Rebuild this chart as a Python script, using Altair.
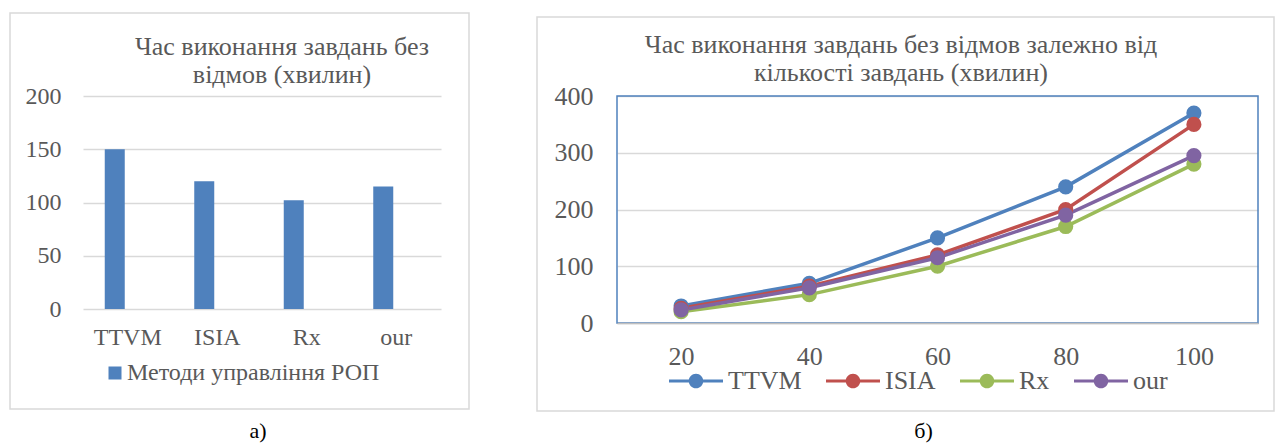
import altair as alt
import pandas as pd

# ---------------- data ----------------
methods = ["TTVM", "ISIA", "Rx", "our"]
bar_values = [150, 120, 102, 115]
bar_series = "Методи управління РОП"

tasks = ["20", "40", "60", "80", "100"]
series_names = ["TTVM", "ISIA", "Rx", "our"]
ttvm = [30, 70, 150, 240, 370]
isia = [26, 65, 120, 200, 350]
rx = [20, 50, 100, 170, 280]
our = [23, 62, 115, 190, 295]

left_title = ["Час виконання завдань без", "відмов (хвилин)"]
right_title = ["Час виконання завдань без відмов залежно від", "кількості завдань (хвилин)"]
left_y_ticks = [0, 50, 100, 150, 200]
right_y_ticks = [0, 100, 200, 300, 400]
caption_a = "а)"
caption_b = "б)"

FONT = "Liberation Serif"
GREY = "#595959"
GRID = "#d9d9d9"
colors = ["#4F81BD", "#C0504D", "#9BBB59", "#8064A2"]

bars_df = pd.DataFrame({"method": methods, "value": bar_values,
                        "bar_series": [bar_series] * len(methods)})
rows = []
for name, vals in zip(series_names, [ttvm, isia, rx, our]):
    for t, v in zip(tasks, vals):
        rows.append({"tasks": t, "value": v, "series": name})
lines_df = pd.DataFrame(rows)

one = alt.Data(values=[{}])

LW, LH = 358, 213
RW, RH = 641, 227

# ---------------- left panel ----------------
bg = alt.Chart(one).mark_rect(fill="white", fillOpacity=0).encode(
    x=alt.value(-83), x2=alt.value(1192), y=alt.value(-96), y2=alt.value(348))
left_frame = alt.Chart(one).mark_rect(
    fill="white", fillOpacity=0, stroke=GRID, strokeWidth=1.5).encode(
    x=alt.value(-73), x2=alt.value(386), y=alt.value(-83), y2=alt.value(313))

bars = alt.Chart(bars_df).mark_bar(width=20, xOffset=-13).encode(
    x=alt.X("method:N", sort=methods,
            scale=alt.Scale(paddingInner=0, paddingOuter=0),
            axis=alt.Axis(title=None, labelAngle=0, domain=False, ticks=False,
                          tickSize=0, labelPadding=16, labelFont=FONT,
                          labelFontSize=24, labelColor=GREY, grid=False)),
    y=alt.Y("value:Q", scale=alt.Scale(domain=[0, 200], nice=False),
            axis=alt.Axis(title=None, values=left_y_ticks, domain=False,
                          ticks=False, tickSize=0, labelPadding=22,
                          labelFont=FONT, labelFontSize=24, labelColor=GREY,
                          gridColor=GRID, gridWidth=1.5)),
    color=alt.Color("bar_series:N", scale=alt.Scale(range=[colors[0]]),
                    legend=alt.Legend(title=None, orient="none", legendX=20,
                                      legendY=265, symbolType="square",
                                      symbolSize=169, symbolStrokeWidth=0,
                                      symbolOpacity=1,
                                      labelFont=FONT, labelFontSize=24,
                                      labelColor=GREY, labelOffset=0,
                                      labelLimit=400, padding=0)),
)

left_title_mark = alt.Chart(one).mark_text(
    font=FONT, fontSize=26, color=GREY, align="center", baseline="alphabetic",
    lineHeight=28).encode(x=alt.value(199), y=alt.value(-41),
                          text=alt.value(left_title))
cap_a = alt.Chart(one).mark_text(
    font=FONT, fontSize=22, color="black", align="center",
    baseline="alphabetic").encode(x=alt.value(175), y=alt.value(342),
                                  text=alt.value(caption_a))

left = alt.layer(bg, left_frame, bars, left_title_mark, cap_a).properties(
    width=LW, height=LH)

# ---------------- right panel ----------------
right_frame = alt.Chart(one).mark_rect(
    fill="white", fillOpacity=0, stroke=GRID, strokeWidth=1.5).encode(
    x=alt.value(-80), x2=alt.value(657), y=alt.value(-79), y2=alt.value(315))

color_scale = alt.Scale(domain=series_names, range=colors)
LEG_PATH = ("M-1,-0.06L-0.2,-0.06L-0.2,0.06L-1,0.06Z "
            "M0.2,-0.06L1,-0.06L1,0.06L0.2,0.06Z "
            "M-0.27,0A0.27,0.27,0,1,1,0.27,0A0.27,0.27,0,1,1,-0.27,0Z")
legend = alt.Legend(title=None, orient="none", direction="horizontal",
                    legendX=52, legendY=258, symbolType=LEG_PATH,
                    symbolSize=2916, symbolStrokeWidth=0, symbolOpacity=1,
                    labelFont=FONT, labelFontSize=26, labelColor=GREY,
                    labelOffset=5, columnPadding=24, labelLimit=300, padding=0)

xenc = alt.X("tasks:N", sort=tasks, scale=alt.Scale(type="point", padding=0.5),
             axis=alt.Axis(title=None, labelAngle=0, domainColor="#bfbfbf",
                           domainWidth=1.5, ticks=False, tickSize=0,
                           labelPadding=20, labelFont=FONT, labelFontSize=26,
                           labelColor=GREY, grid=False, zindex=1))
yenc = alt.Y("value:Q", scale=alt.Scale(domain=[0, 400], nice=False),
             axis=alt.Axis(title=None, values=right_y_ticks, domain=False,
                           ticks=False, tickSize=0, labelPadding=24,
                           labelFont=FONT, labelFontSize=26, labelColor=GREY,
                           gridColor=GRID, gridWidth=1.5))

lines = alt.Chart(lines_df).mark_line(strokeWidth=3.5).encode(
    x=xenc, y=yenc,
    color=alt.Color("series:N", scale=color_scale, legend=legend))
points = alt.Chart(lines_df).mark_circle(size=230, opacity=1).encode(
    x=xenc, y=yenc,
    color=alt.Color("series:N", scale=color_scale, legend=legend))

blue_box = alt.Chart(one).mark_rect(
    fill="white", fillOpacity=0, stroke="#4F81BD", strokeWidth=1.5).encode(
    x=alt.value(0), x2=alt.value(RW), y=alt.value(0), y2=alt.value(RH))

right_title_mark = alt.Chart(one).mark_text(
    font=FONT, fontSize=26, color=GREY, align="center", baseline="alphabetic",
    lineHeight=28).encode(x=alt.value(284), y=alt.value(-43.5),
                          text=alt.value(right_title))
cap_b = alt.Chart(one).mark_text(
    font=FONT, fontSize=22, color="black", align="center",
    baseline="alphabetic").encode(x=alt.value(306.5), y=alt.value(342),
                                  text=alt.value(caption_b))

right = alt.layer(right_frame, blue_box, lines, points, right_title_mark,
                  cap_b).properties(width=RW, height=RH)

chart = alt.hconcat(left, right, spacing=176, bounds="flush", padding=0,
                    background="white").resolve_scale(
    x="independent", y="independent", color="independent").resolve_legend(
    color="independent").configure_view(strokeWidth=0)

chart.save("out.html", embed_options={"renderer": "svg", "actions": False})
